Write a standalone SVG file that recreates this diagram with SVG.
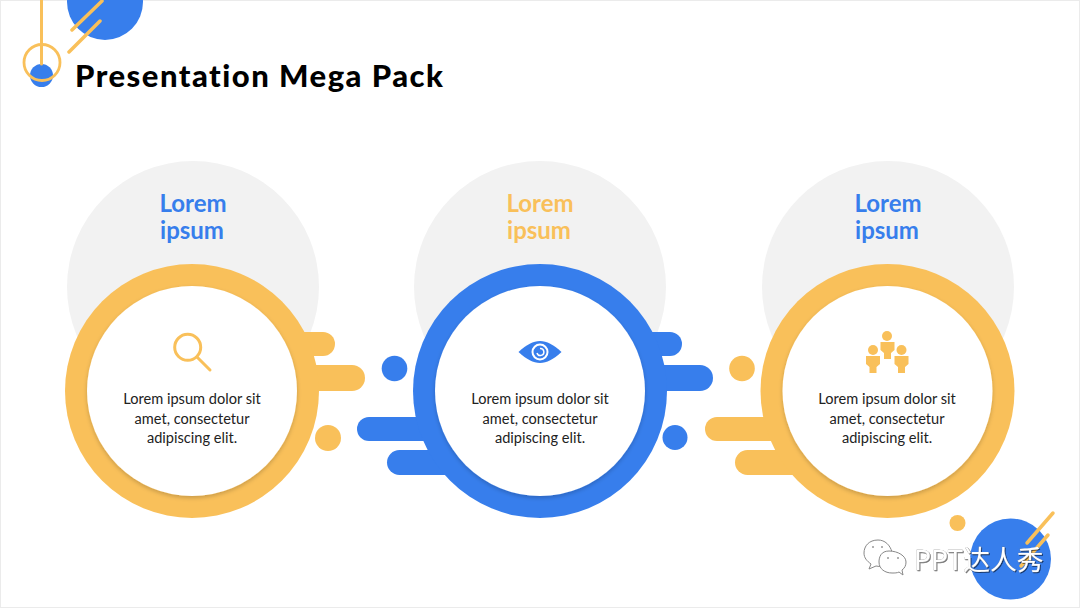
<svg xmlns="http://www.w3.org/2000/svg" width="1080" height="608" viewBox="0 0 1080 608">
<defs>
<style>
.y{fill:#f9c05a}.b{fill:#377eec}.g{fill:#f2f2f2}
.ly{stroke:#f9c05a;fill:none;stroke-linecap:round}
.h{font-family:"Lato","Liberation Sans",sans-serif;font-weight:700;font-size:24px;text-anchor:middle;font-variant-ligatures:none}
.t{font-family:"Lato","Liberation Sans",sans-serif;font-size:14.600px;fill:#222;text-anchor:middle}
.wm{font-family:"Noto Sans CJK SC","Noto Sans",sans-serif;font-size:26.800px;fill:#fff;stroke:#777;stroke-width:.3px;paint-order:stroke}
</style>
<filter id="s" x="-10%" y="-10%" width="120%" height="120%"><feDropShadow dx="0" dy="2" stdDeviation="2" flood-color="#000" flood-opacity=".2"/></filter>
<filter id="ws" x="-10%" y="-20%" width="120%" height="140%"><feDropShadow dx="1" dy="1" stdDeviation=".6" flood-color="#000" flood-opacity=".55"/></filter>
</defs>
<rect width="1080" height="608" fill="#fff"/>
<rect x=".5" y=".5" width="1079" height="607" fill="none" stroke="#ebebeb"/>

<g id="decor-top-left">
<circle class="b" cx="105" cy="2" r="38"/>
<circle class="b" cx="41.500" cy="75.500" r="11.500"/>
<path class="ly" stroke-width="3.500" d="M72 30 102 1M69 52 100 21"/>
<path class="ly" stroke-width="3" d="M41.500 0V64"/>
<circle class="ly" stroke-width="2.800" cx="42" cy="62.500" r="18"/>
</g>
<text id="title" x="75" y="87" font-family="Lato,'Liberation Sans',sans-serif" font-weight="900" font-size="31" fill="#000" textLength="368" lengthAdjust="spacing" style="font-variant-ligatures:none">Presentation Mega Pack</text>

<g id="node-1">
<circle class="g" cx="193" cy="287" r="126"/>
<text class="h" x="193" y="212" fill="#377eec">Lorem</text>
<text class="h" x="192" y="239" fill="#377eec">ipsum</text>
<g class="y">
<rect x="280" y="332" width="55" height="24" rx="12"/>
<rect x="280" y="365" width="85" height="26" rx="13"/>
<circle cx="328" cy="438" r="13"/>
<circle cx="192" cy="391" r="127"/>
</g>
<circle cx="192" cy="391" r="105" fill="#fff" filter="url(#s)"/>
<g class="ly" stroke-width="3"><circle cx="187.700" cy="347.300" r="13"/><path d="M197 357 210 370"/></g>
<text class="t"><tspan x="192" y="403.500">Lorem ipsum dolor sit</tspan><tspan x="192" y="423.500">amet, consectetur</tspan><tspan x="192" y="442.500">adipiscing elit.</tspan></text>
</g>

<g id="node-2">
<circle class="g" cx="540" cy="287" r="126"/>
<text class="h" x="540" y="212" fill="#f9c05a">Lorem</text>
<text class="h" x="539" y="239" fill="#f9c05a">ipsum</text>
<g class="b">
<rect x="630" y="332" width="52" height="24" rx="12"/>
<rect x="630" y="365" width="83" height="26" rx="13"/>
<circle cx="675" cy="437.500" r="12.500"/>
<circle cx="394.500" cy="368.500" r="12.800"/>
<rect x="357" y="417" width="100" height="24" rx="12"/>
<rect x="387" y="450" width="90" height="25" rx="12.500"/>
<circle cx="540" cy="391" r="127"/>
</g>
<circle cx="540" cy="391" r="105" fill="#fff" filter="url(#s)"/>
<path class="b" d="M518.500 352C527 344.500 533 341 540 341S553 344.500 561.500 352C553 359.500 547 363 540 363S527 359.500 518.500 352Z"/>
<circle cx="540" cy="352" r="7.500" fill="none" stroke="#fff" stroke-width="2"/>
<path d="M537 353a3.500 3.500 0 1 0 3-4.500" fill="none" stroke="#fff" stroke-width="1.500"/>
<text class="t"><tspan x="540" y="403.500">Lorem ipsum dolor sit</tspan><tspan x="540" y="423.500">amet, consectetur</tspan><tspan x="540" y="442.500">adipiscing elit.</tspan></text>
</g>

<g id="node-3">
<circle class="g" cx="888" cy="287" r="126"/>
<text class="h" x="888" y="212" fill="#377eec">Lorem</text>
<text class="h" x="887" y="239" fill="#377eec">ipsum</text>
<g class="y">
<circle cx="742" cy="368.500" r="12.800"/>
<rect x="705" y="417" width="100" height="24" rx="12"/>
<rect x="735" y="450" width="90" height="25" rx="12.500"/>
<circle cx="887.500" cy="391" r="127"/>
</g>
<circle cx="887.500" cy="391" r="105" fill="#fff" filter="url(#s)"/>
<g class="y">
<circle cx="887" cy="336" r="5"/>
<path d="M880.500 342H894.500V350L891 353V359H884V353L880.500 350Z"/>
<circle cx="873" cy="350" r="5"/>
<path d="M866 356H880V364L876.500 367V373H869.500V367L866 364Z"/>
<circle cx="901.500" cy="350" r="5"/>
<path d="M894.500 356H908.500V364L905 367V373H898V367L894.500 364Z"/>
</g>
<text class="t"><tspan x="887" y="403.500">Lorem ipsum dolor sit</tspan><tspan x="887" y="423.500">amet, consectetur</tspan><tspan x="887" y="442.500">adipiscing elit.</tspan></text>
</g>

<g id="decor-bottom-right">
<circle class="y" cx="957.500" cy="523" r="8"/>
<circle class="b" cx="1010.500" cy="559" r="40.500"/>
<path class="ly" stroke-width="3.500" d="M1027 543 1053 513M1021 566 1048 535"/>
</g>

<g id="watermark">
<g fill="#fff" stroke="#888" stroke-width="1">
<path d="M878 540C869 540 864 546 864 553C864 558 867 561 871 564L869 569 876 566C880 567 884 566 886 565L892 552C890 545 885 540 878 540Z"/>
<path d="M889 551C881 551 879 557 879 562C879 569 885 573 892 573C895 573 897 573 899 572L903 575 902 570C905 568 906 565 906 562C906 556 898 551 889 551Z"/>
</g>
<g fill="#999"><circle cx="873" cy="547" r="1"/><circle cx="882" cy="547" r="1"/><circle cx="888" cy="558" r="1"/><circle cx="898" cy="558" r="1"/></g>
<text class="wm" x="914" y="570" filter="url(#ws)">PPT达人秀</text>
</g>
</svg>
